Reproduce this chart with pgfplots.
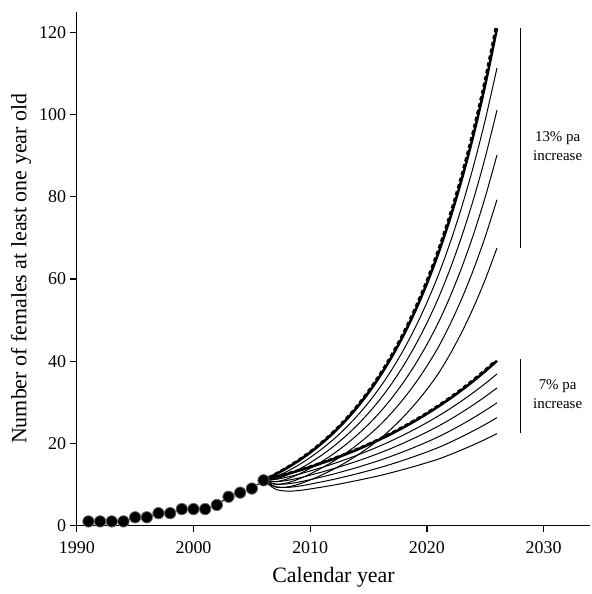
\documentclass[border=0pt]{standalone}
\usepackage{fontspec}
\setmainfont{Liberation Serif}
\usepackage{pgfplots}
\pgfplotsset{compat=1.18}
\usepackage{pgfplotstable}
\pgfplotstableread{
year n
1991 1
1992 1
1993 1
1994 1
1995 2
1996 2
1997 3
1998 3
1999 4
2000 4
2001 4
2002 5
2003 7
2004 8
2005 9
2006 11
}\obs
\pgfplotstableread{
year t13 a1 a2 a3 a4 a5 t7 b1 b2 b3 b4 b5
2006 11.00 11.00 11.00 11.00 11.00 11.00 11.00 11.00 11.00 11.00 11.00 11.00
2007 12.40 11.85 11.28 10.66 10.05 9.39 11.73 11.21 10.67 10.09 9.50 8.88
2008 13.98 13.14 12.25 11.31 10.36 9.35 12.52 11.77 10.97 10.13 9.28 8.37
2009 15.76 14.73 13.63 12.46 11.30 10.05 13.35 12.47 11.54 10.56 9.57 8.51
2010 17.77 16.56 15.28 13.92 12.56 11.09 14.25 13.28 12.25 11.16 10.07 8.90
2011 20.04 18.65 17.16 15.60 14.03 12.33 15.20 14.14 13.02 11.83 10.64 9.36
2012 22.59 20.98 19.27 17.46 15.65 13.70 16.21 15.06 13.83 12.53 11.23 9.83
2013 25.47 23.63 21.67 19.59 17.52 15.28 17.30 16.05 14.72 13.31 11.90 10.38
2014 28.71 26.60 24.35 21.97 19.60 17.04 18.45 17.09 15.65 14.12 12.59 10.95
2015 32.37 29.95 27.38 24.65 21.93 18.99 19.69 18.22 16.65 15.00 13.34 11.55
2016 36.49 33.72 30.77 27.65 24.53 21.17 21.00 19.40 17.71 15.91 14.12 12.18
2017 41.14 37.98 34.62 31.07 27.51 23.68 22.40 20.68 18.85 16.92 14.98 12.90
2018 46.38 42.78 38.96 34.91 30.86 26.50 23.90 22.05 20.08 17.99 15.90 13.65
2019 52.29 48.19 43.83 39.22 34.61 29.64 25.50 23.50 21.38 19.13 16.88 14.45
2020 58.95 54.28 49.32 44.07 38.82 33.15 27.20 25.05 22.76 20.33 17.91 15.30
2021 66.46 61.14 55.49 49.51 43.53 37.09 29.02 26.70 24.23 21.62 19.01 16.19
2022 74.93 68.94 62.57 55.82 49.08 41.81 30.95 28.47 25.84 23.06 20.27 17.27
2023 84.48 77.72 70.54 62.94 55.33 47.14 33.02 30.38 27.57 24.60 21.63 18.43
2024 95.24 87.62 79.53 70.95 62.38 53.14 35.23 32.41 29.42 26.25 23.08 19.66
2025 107.37 98.78 89.65 79.99 70.33 59.91 37.58 34.57 31.38 28.00 24.61 20.97
2026 121.05 111.37 101.08 90.18 79.29 67.55 40.09 36.88 33.48 29.87 26.26 22.37
}\proj
\begin{document}
\begin{tikzpicture}
\begin{axis}[
  scale only axis, width=257.5pt, height=257.5pt,
  xmin=1990, xmax=2034, ymin=0, ymax=125,
  axis x line=bottom, axis y line=left,
  axis line style={-, line width=0.7pt},
  xtick={1990,2000,...,2030}, ytick={0,20,...,120},
  tick align=outside, major tick length=3.3pt,
  tick style={line width=0.6pt, black},
  /pgf/number format/1000 sep={},
  /pgf/number format/assume math mode=true,
  ticklabel style={font=\fontsize{9}{10}\selectfont},
  xticklabel style={yshift=-1pt},
  yticklabel style={xshift=1.5pt},
  label style={font=\fontsize{11}{12}\selectfont},
  xlabel={Calendar year},
  ylabel={Number of females at least one year old},
  xlabel style={at={(axis description cs:0.5,0)}, anchor=center, yshift=-26pt},
  ylabel style={at={(axis description cs:0,0.5)}, anchor=center, yshift=28pt},
  clip=false,
]
\foreach \c in {a1,a2,a3,a4,a5,b1,b2,b3,b4,b5}{
  \addplot[black, line width=0.5pt, smooth] table[x=year, y=\c]{\proj};
}
\addplot[black, line width=1.3pt, smooth] table[x=year, y=t13]{\proj};
\addplot[black, line width=1.1pt, smooth, dash pattern=on 2pt off 1.5pt] table[x expr=\thisrow{year}-0.12, y=t13]{\proj};
\addplot[black, line width=1.3pt, smooth] table[x=year, y=t7]{\proj};
\addplot[black, line width=1.1pt, smooth, dash pattern=on 2pt off 1.5pt] table[x expr=\thisrow{year}-0.15, y=t7]{\proj};
\addplot[black, line width=0.5pt, mark=*, mark size=2.85pt, mark options={fill=black, draw=black!60, line width=0.4pt}] table[x=year, y=n]{\obs};
\addplot[black, line width=0.6pt] coordinates {(2028,67.5) (2028,121)};
\addplot[black, line width=0.6pt] coordinates {(2028,22.4) (2028,40.5)};
\node[align=center, font=\fontsize{7.5}{9.5}\selectfont] at (axis cs:2031.2,92.3) {13\% pa\\increase};
\node[align=center, font=\fontsize{7.5}{9.5}\selectfont] at (axis cs:2031.2,32.0) {7\% pa\\increase};
\end{axis}
\path ([yshift=6pt]current axis.north west);
\path ([xshift=-38.5pt, yshift=-31.5pt]current axis.south west);
\end{tikzpicture}
\end{document}
